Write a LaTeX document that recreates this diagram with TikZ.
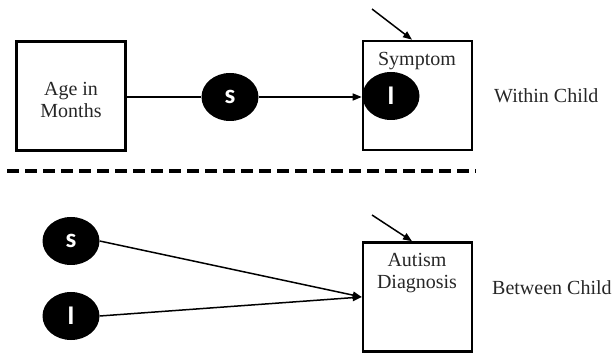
\documentclass[tikz,border=0pt]{standalone}
\usepackage{fontspec}
\setmainfont{Liberation Serif}
\newfontfamily\lblfont{Carlito}
\usetikzlibrary{arrows.meta,shapes.geometric}
\begin{document}
\begin{tikzpicture}[x=1pt,y=-1pt,
  box/.style={draw=black,line width=2.6pt,minimum width=109pt,minimum height=109pt,inner sep=0pt},
  txt/.style={font=\fontsize{20}{22.5}\selectfont,align=center,inner sep=0pt,text=black!85},
  ell/.style={ellipse,fill=black,minimum width=57pt,minimum height=48pt,inner sep=0pt,text=white},
  lbl/.style={font=\lblfont\bfseries\fontsize{27}{27}\selectfont},
  conn/.style={line width=1.5pt},
  arr/.style={line width=1.5pt,-{Triangle[length=9pt,width=7pt]}},
  sep/.style={line width=3.5pt,dash pattern=on 12pt off 6pt}
]
\useasboundingbox (0,0) rectangle (613,355);
% boxes
\node[box] (age) at (71,96) {};
\node[box] (sym) at (417.5,95.5) {};
\node[box] (aut) at (417.5,297) {};
% box texts
\node[txt] (agetxt) at (71,100) {Age in\\Months};
\node[txt] (symtxt) at (417,61) {Symptom};
\node[txt] (auttxt) at (417,273) {Autism\\Diagnosis};
% side labels
\node[txt,anchor=west] (within) at (494,96) {Within Child};
\node[txt,anchor=west] (between) at (492,288) {Between Child};
% ellipses
\node[ell,lbl] (s1) at (230,97) {s};
\node[ell,lbl] (i1) at (391,96) {I};
\node[ell,lbl] (s2) at (71,241) {s};
\node[ell,lbl] (i2) at (71,316) {I};
% dashed separator
\coordinate (dl) at (7,171);
\coordinate (dr) at (476,171);
\draw[sep] (dl) -- (dr);
% connectors
\draw[conn] (s1.west) -- (s1.west -| age.east);
\draw[arr] (s1.east) -- (s1.east -| sym.west);
\draw[arr] (s2.east) -- (aut.west);
\draw[arr] (i2.east) -- (aut.west);
\coordinate (e1) at (372,9);
\coordinate (e2) at (372,215);
\draw[arr] (e1) -- ([xshift=-5.5pt]sym.north);
\draw[arr] (e2) -- ([xshift=-5.5pt]aut.north);
\end{tikzpicture}
\end{document}
